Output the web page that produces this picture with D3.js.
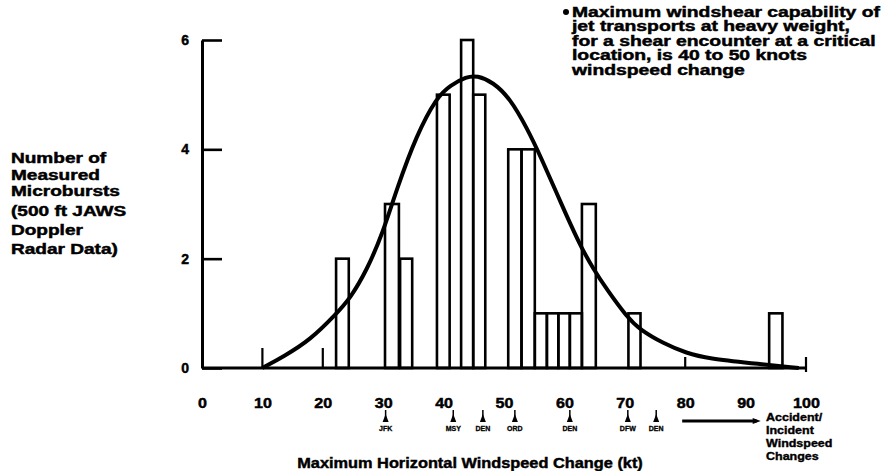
<!DOCTYPE html>
<html><head><meta charset="utf-8">
<script src="https://cdn.jsdelivr.net/npm/d3@7"></script>
<style>
body{margin:0;background:#fff}
text{font-family:"Liberation Sans",Arial,sans-serif;font-weight:bold;fill:#000;stroke:#000;stroke-width:0.45px}
</style>
</head><body>
<svg id="c" width="884" height="471"></svg>
<script>
// ---- data ----
const barLeft  = [22.2, 30.3, 32.8, 38.9, 42.9, 44.9, 50.7, 52.9, 55.1, 57.1, 59.0, 60.9, 62.9, 70.6, 93.9];
const barRight = [24.3, 32.6, 34.8, 41.0, 44.9, 46.9, 52.9, 55.1, 57.1, 59.0, 60.9, 62.9, 65.2, 72.6, 96.1];
const barCount = [2, 3, 2, 5, 6, 5, 4, 4, 1, 1, 1, 1, 3, 1, 1];

const curveX = [10, 13.5, 17.9, 22.3, 24.5, 27.3, 30.0, 32.2, 35.5, 38.9, 41.1, 43.8, 45.5, 48.2, 51.0, 53.8, 56.1, 59.5, 62.6, 64.8, 67.0, 70.3, 72.5, 76.4, 80.2, 84.0, 90.7, 98.8];
const curveY = [0, 0.21, 0.51, 1.0, 1.27, 1.79, 2.49, 3.26, 4.26, 4.96, 5.17, 5.33, 5.35, 5.23, 4.93, 4.39, 3.86, 3.0, 2.24, 1.81, 1.44, 0.94, 0.70, 0.45, 0.27, 0.17, 0.09, 0];

const xTickValues = [0, 10, 20, 30, 40, 50, 60, 70, 80, 90, 100];
const yTickValues = [0, 2, 4, 6];
const xMarkTicks = [10, 20, 80, 100];

const eventKt = [30.4, 41.6, 46.5, 51.8, 60.9, 70.5, 75.2];
const eventLabels = ["JFK", "MSY", "DEN", "ORD", "DEN", "DFW", "DEN"];
const accidentRange = [79.5, 92.5];
const accidentText = ["Accident/", "Incident", "Windspeed", "Changes"];

const yTitle = ["Number of", "Measured", "Microbursts", "(500 ft JAWS", "Doppler", "Radar Data)"];
const noteText = ["Maximum windshear capability of", "jet transports at heavy weight,", "for a shear encounter at a critical", "location, is 40 to 50 knots", "windspeed change"];
const xTitle = "Maximum Horizontal Windspeed Change (kt)";

// ---- drawing ----
const svg = d3.select("#c");
const x = d3.scaleLinear().domain([0, 100]).range([202, 806]);
const y = d3.scaleLinear().domain([0, 6]).range([368, 40]);

// bars
svg.append("g").selectAll("rect").data(barCount).join("rect")
  .attr("x", (d, i) => x(barLeft[i]))
  .attr("width", (d, i) => x(barRight[i]) - x(barLeft[i]))
  .attr("y", d => y(d))
  .attr("height", d => y(0) - y(d))
  .attr("fill", "none").attr("stroke", "#000").attr("stroke-width", 2.6);

// fitted curve
const line = d3.line().x(d => x(d[0])).y(d => y(d[1])).curve(d3.curveBasis);
svg.append("path").datum(curveX.map((v, i) => [v, curveY[i]]))
  .attr("d", line).attr("fill", "none").attr("stroke", "#000").attr("stroke-width", 4);

// baseline
svg.append("line").attr("x1", x(0)).attr("x2", x(100)).attr("y1", y(0)).attr("y2", y(0))
  .attr("stroke", "#000").attr("stroke-width", 3);

// small ticks on x axis
svg.append("g").selectAll("line").data(xMarkTicks).join("line")
  .attr("x1", d => x(d)).attr("x2", d => x(d))
  .attr("y1", d => y(0) - (d < 50 ? 20 : 11)).attr("y2", d => y(0) + (d === 100 ? 4 : 0))
  .attr("stroke", "#000").attr("stroke-width", 2.2);

// y axis
const yAxis = svg.append("g").attr("transform", `translate(${x(0)},0)`)
  .call(d3.axisLeft(y).tickValues(yTickValues).tickSizeInner(-20).tickSizeOuter(0).tickPadding(13).tickFormat(d3.format("d")));
yAxis.select(".domain").attr("stroke-width", 3);
yAxis.selectAll(".tick line").attr("stroke-width", 2.6);
yAxis.selectAll("text").style("font-size", "14px").attr("font-family", null);

// x axis labels
const xAxis = svg.append("g").attr("transform", `translate(0,${y(0)})`)
  .call(d3.axisBottom(x).tickValues(xTickValues).tickSize(0).tickPadding(30).tickFormat(d3.format("d")));
xAxis.select(".domain").remove();
xAxis.selectAll("text").style("font-size", "14px").attr("font-family", null)
  .attr("transform", "scale(1.15,1)");

// event arrows
const ev = svg.append("g").selectAll("g").data(eventKt).join("g")
  .attr("transform", d => `translate(${x(d)},0)`);
ev.append("line").attr("y1", 410).attr("y2", 421).attr("stroke", "#000").attr("stroke-width", 1.5);
ev.append("path").attr("d", "M0,414 L-3,422 L3,422 Z").attr("fill", "#000");
ev.append("text").attr("y", 431).attr("text-anchor", "middle")
  .style("font-size", "7px").style("stroke-width", "0.3px")
  .text((d, i) => eventLabels[i]);

// accident arrow
svg.append("line").attr("x1", x(accidentRange[0])).attr("x2", x(accidentRange[1]) - 4)
  .attr("y1", 421).attr("y2", 421).attr("stroke", "#000").attr("stroke-width", 3);
svg.append("path").attr("d", `M${x(accidentRange[1])},421 l-8,-3 l0,6 Z`).attr("fill", "#000");
const acc = svg.append("g").attr("transform", "translate(766,0) scale(1.25,1)");
acc.selectAll("text").data(accidentText).join("text")
  .attr("x", 0).attr("y", (d, i) => 421 + i * 13)
  .style("font-size", "10px").style("stroke-width", "0.35px").text(d => d);

// y title
const yt = svg.append("g").attr("transform", "translate(11,0) scale(1.36,1)");
const yBase = [163, 180, 196, 216, 235, 254];
yt.selectAll("text").data(yTitle).join("text")
  .attr("x", 0).attr("y", (d, i) => yBase[i]).style("font-size", "14px").text(d => d);

// note
svg.append("circle").attr("cx", 566).attr("cy", 12).attr("r", 3).attr("fill", "#000");
const nt = svg.append("g").attr("transform", "translate(572,0) scale(1.38,1)");
nt.selectAll("text").data(noteText).join("text")
  .attr("x", 0).attr("y", (d, i) => 17 + i * 14.5).style("font-size", "14px").text(d => d);

// x title
svg.append("g").attr("transform", "translate(470,0) scale(1.09,1)")
  .append("text").attr("x", 0).attr("y", 468).attr("text-anchor", "middle")
  .style("font-size", "15px").text(xTitle);
</script>
</body></html>
